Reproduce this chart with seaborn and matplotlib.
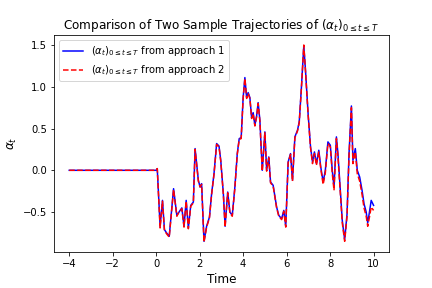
import matplotlib
matplotlib.use("Agg")
import matplotlib.pyplot as plt
import seaborn as sns
import numpy as np

time = [-4.0, 0.0, 0.05, 0.18, 0.29, 0.38, 0.48, 0.6, 0.8, 0.95, 1.05, 1.18, 1.28, 1.38,
        1.48, 1.59, 1.71, 1.79, 1.94, 2.02, 2.09, 2.2, 2.32, 2.45, 2.55, 2.66, 2.78,
        2.89, 2.97, 3.09, 3.17, 3.29, 3.39, 3.5, 3.62, 3.73, 3.82, 3.91, 4.0, 4.08,
        4.16, 4.23, 4.31, 4.39, 4.46, 4.54, 4.62, 4.69, 4.77, 4.82, 4.88, 5.0, 5.08,
        5.18, 5.26, 5.38, 5.54, 5.64, 5.77, 5.87, 5.96, 6.07, 6.18, 6.27, 6.38, 6.5,
        6.58, 6.68, 6.79, 6.87, 6.99, 7.1, 7.19, 7.28, 7.37, 7.48, 7.57, 7.68, 7.78,
        7.9, 8.01, 8.1, 8.18, 8.29, 8.36, 8.47, 8.56, 8.67, 8.78, 8.87, 8.98, 9.05,
        9.16, 9.25, 9.36, 9.47, 9.56, 9.66, 9.73, 9.81, 9.89, 10.0]

approach1 = [0.0, 0.0, 0.02, -0.67, -0.36, -0.71, -0.75, -0.79, -0.22, -0.54, -0.5, -0.45,
             -0.67, -0.36, -0.69, -0.42, -0.38, 0.26, -0.12, -0.2, -0.16, -0.85, -0.67,
             -0.56, -0.28, -0.04, 0.32, 0.29, 0.12, -0.28, -0.67, -0.26, -0.5, -0.54,
             -0.2, 0.2, 0.38, 0.39, 0.87, 1.11, 0.87, 0.93, 0.87, 0.63, 0.69, 0.54,
             0.65, 0.81, 0.6, 0.32, 0.0, 0.46, 0.0, 0.16, -0.14, -0.18, -0.44, -0.54,
             -0.58, -0.48, -0.67, 0.1, 0.2, -0.12, 0.4, 0.48, 0.58, 0.99, 1.49, 1.19,
             0.67, 0.28, 0.1, 0.22, 0.08, 0.24, 0.04, -0.14, 0.0, 0.34, 0.3, 0.0, -0.2,
             0.4, 0.2, -0.24, -0.6, -0.83, -0.52, 0.2, 0.77, 0.12, 0.26, 0.0, -0.08,
             -0.24, -0.4, -0.5, -0.63, -0.5, -0.36, -0.42]

approach2 = [0.0, 0.0, 0.02, -0.69, -0.37, -0.72, -0.76, -0.8, -0.23, -0.55, -0.5, -0.46,
             -0.68, -0.37, -0.7, -0.43, -0.39, 0.25, -0.13, -0.2, -0.17, -0.86, -0.68,
             -0.57, -0.29, -0.05, 0.31, 0.28, 0.11, -0.29, -0.68, -0.27, -0.51, -0.55,
             -0.21, 0.19, 0.37, 0.38, 0.86, 1.1, 0.86, 0.92, 0.86, 0.62, 0.68, 0.53,
             0.64, 0.8, 0.59, 0.31, -0.01, 0.45, -0.01, 0.15, -0.15, -0.19, -0.45, -0.55,
             -0.59, -0.49, -0.68, 0.09, 0.19, -0.13, 0.39, 0.47, 0.57, 0.98, 1.5, 1.18,
             0.66, 0.27, 0.08, 0.2, 0.06, 0.22, 0.02, -0.17, -0.03, 0.32, 0.28, -0.04,
             -0.24, 0.38, 0.17, -0.27, -0.63, -0.85, -0.55, 0.17, 0.75, 0.08, 0.22, -0.04,
             -0.13, -0.29, -0.45, -0.55, -0.67, -0.56, -0.44, -0.48]

fig, ax = plt.subplots(figsize=(6, 4), dpi=72)
fig.subplots_adjust(left=0.125, right=0.9, bottom=0.125, top=0.878)

sns.lineplot(x=time, y=approach1, ax=ax, color="blue", linewidth=1.5, sort=False,
             label=r"$(\alpha_t)_{0\leq t\leq T}$ from approach 1")
sns.lineplot(x=time, y=approach2, ax=ax, color="red", linewidth=1.5, linestyle="--",
             sort=False, label=r"$(\alpha_t)_{0\leq t\leq T}$ from approach 2")

ax.set_title(r"Comparison of Two Sample Trajectories of $(\alpha_t)_{0\leq t\leq T}$", fontsize=12)
ax.set_xlabel("Time", fontsize=12)
ax.set_ylabel(r"$\alpha_t$", fontsize=12)
ax.tick_params(labelsize=10)
ax.legend(loc="upper left", fontsize=10)

fig.savefig("out.png", dpi=72)
